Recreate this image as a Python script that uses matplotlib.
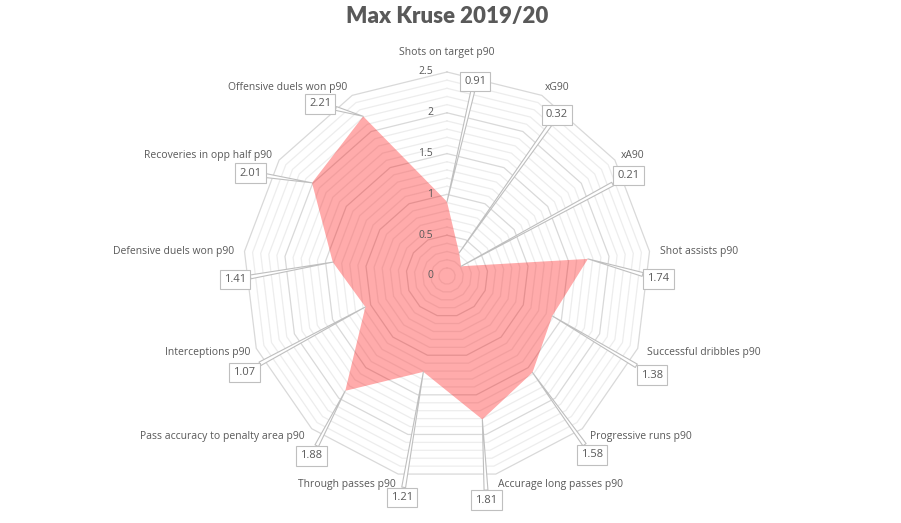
import numpy as np
import matplotlib
matplotlib.use("Agg")
import matplotlib.pyplot as plt

# ---------------- data ----------------
title = "Max Kruse 2019/20"
categories = [
    "Shots on target p90", "xG90", "xA90", "Shot assists p90",
    "Successful dribbles p90", "Progressive runs p90",
    "Accurage long passes p90", "Through passes p90",
    "Pass accuracy to penalty area p90", "Interceptions p90",
    "Defensive duels won p90", "Recoveries in opp half p90",
    "Offensive duels won p90",
]
values = [0.91, 0.32, 0.21, 1.74, 1.38, 1.58, 1.81, 1.21, 1.88, 1.07, 1.41, 2.01, 2.21]
radial_ticks = [0, 0.5, 1, 1.5, 2, 2.5]
r_max = 2.5
minor_step = 0.1

# ---------------- layout ----------------
# value-box positions (angle in degrees clockwise from top, radius in data units)
value_box_pos = [(8.2, 2.41), (34.3, 2.39), (61.0, 2.54), (90.8, 2.59),
                 (115.8, 2.79), (141.0, 2.82), (170.0, 2.79), (191.5, 2.77),
                 (217.0, 2.76), (244.6, 2.75), (269.0, 2.60), (297.6, 2.72),
                 (323.6, 2.62)]
# category label offsets from outer vertex (pixels, y up) and alignment
cat_offsets = [(0, 19, "center"), (3, 8, "left"), (6, 5, "left"), (10, 0, "left"),
               (9, -4, "left"), (8, -8, "left"), (2, -10, "left"), (-2, -10, "right"),
               (-7, -8, "right"), (-6, -4, "right"), (-10, 0, "right"),
               (-7, 5, "right"), (-5, 8, "right")]

W, H = 901, 523
cx, cy, R = 447, 276, 204

TEXT = "#595959"
MAJOR = "#d9d9d9"
MINOR = "#ededed"
FONT = "Open Sans"

fig = plt.figure(figsize=(W / 100, H / 100), dpi=100)
ax = fig.add_axes([(cx - R) / W, (H - cy - R) / H, 2 * R / W, 2 * R / H], projection="polar")
ax.set_theta_zero_location("N")
ax.set_theta_direction(-1)
ax.set_ylim(0, r_max)
ax.grid(False)
ax.set_xticks([])
ax.set_yticks([])
ax.spines["polar"].set_visible(False)
ax.patch.set_visible(False)

n = len(categories)
thetas = np.arange(n) * 2 * np.pi / n
tc = np.append(thetas, thetas[0])

# rings
nsteps = int(round(r_max / minor_step))
for k in range(1, nsteps + 1):
    r = k * minor_step
    major = (k % 5 == 0)
    ax.plot(tc, [r] * (n + 1), color=MAJOR if major else MINOR,
            lw=0.9, zorder=2 if major else 1, clip_on=False)

# data fill
vc = np.append(values, values[0])
ax.fill(tc, vc, color="#ff0000", alpha=0.33, lw=0, zorder=3)

# radial tick labels
for r in radial_ticks:
    ax.annotate(f"{r:g}", xy=(0, r), xytext=(-14, 0), textcoords="offset pixels",
                ha="right", va="center", fontsize=7.5, color=TEXT, family=FONT,
                annotation_clip=False, zorder=6)

# category labels
for t, lab, (dx, dy, ha) in zip(thetas, categories, cat_offsets):
    ax.annotate(lab, xy=(t, r_max), xytext=(dx, dy), textcoords="offset pixels",
                ha=ha, va="center", fontsize=7.5, color=TEXT, family=FONT,
                annotation_clip=False, zorder=6)

# value callouts
for t, v, (ang, rr) in zip(thetas, values, value_box_pos):
    ax.annotate(f"{v:.2f}", xy=(t, v), xytext=(np.deg2rad(ang), rr),
                textcoords="data", ha="center", va="center",
                fontsize=8, color=TEXT, family=FONT, annotation_clip=False,
                bbox=dict(boxstyle="square,pad=0.38", fc="white", ec="#bfbfbf", lw=0.8),
                arrowprops=dict(arrowstyle="wedge,tail_width=0.35,shrink_factor=0.5",
                                fc="white", ec="#bfbfbf", lw=0.8,
                                shrinkA=0, shrinkB=0),
                zorder=7)

fig.text(cx / W, 1 - 17 / H, title, ha="center", va="center", fontsize=16,
         weight="heavy", family="Lato", color=TEXT)

fig.savefig("out.png", dpi=100, facecolor="white")
